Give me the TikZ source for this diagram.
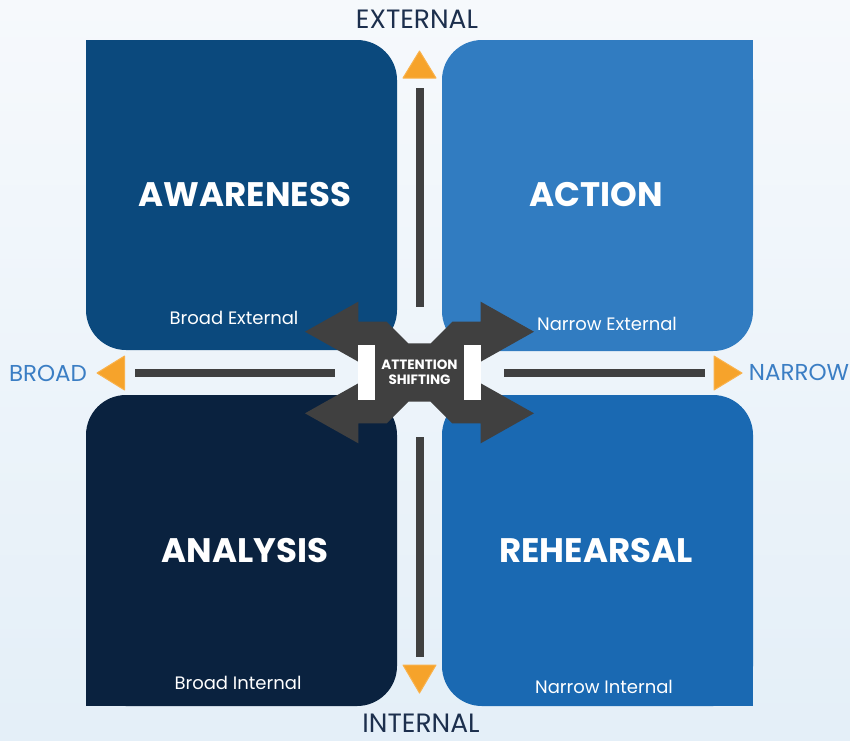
\documentclass[tikz,border=0pt]{standalone}
\usepackage{fontspec}
\setmainfont{Poppins}
\begin{document}
\begin{tikzpicture}[x=1pt,y=-1pt,
  boxtitle/.style={text=white,font=\bfseries\fontsize{34}{40}\selectfont,inner sep=0pt},
  boxsub/.style={text=white,font=\fontsize{18}{22}\selectfont,inner sep=0pt},
  axisv/.style={text=navytxt,font=\fontsize{26.5}{31}\selectfont,inner sep=0pt},
  axish/.style={text=bluetxt,font=\fontsize{23}{28}\selectfont,inner sep=0pt},
  bar/.style={fill=bargray},
  tri/.style={fill=orangetri}
]
\definecolor{bgtop}{HTML}{F6F9FC}
\definecolor{bgbot}{HTML}{E4EFF8}
\definecolor{cAw}{HTML}{0B497D}
\definecolor{cAc}{HTML}{317CC1}
\definecolor{cAn}{HTML}{0A223F}
\definecolor{cRe}{HTML}{1A69B2}
\definecolor{bargray}{HTML}{404040}
\definecolor{orangetri}{HTML}{F6A32B}
\definecolor{orangeedge}{HTML}{F9B24C}
\definecolor{navytxt}{HTML}{1C2F4D}
\definecolor{bluetxt}{HTML}{3B7EC4}

\useasboundingbox (0,0) rectangle (850,740);
\fill[top color=bgtop,bottom color=bgbot] (0,0) rectangle (850,740);

% quadrant boxes (outer corner square)
\fill[cAw,rounded corners=40pt] (86,40) rectangle (397,350);
\fill[cAw] (86,40) rectangle (140,94);
\fill[cAc,rounded corners=40pt] (442,40) rectangle (753,351);
\fill[cAc] (699,40) rectangle (753,94);
\fill[cAn,rounded corners=40pt] (86,395) rectangle (397,706);
\fill[cAn] (86,652) rectangle (140,706);
\fill[cRe,rounded corners=40pt] (442,395) rectangle (753,706);
\fill[cRe] (699,652) rectangle (753,706);

% axis bars
\fill[bar] (415.5,88) rectangle (423.5,307);
\fill[bar] (415.5,437) rectangle (423.5,657);
\fill[bar] (135,368.5) rectangle (335,377);
\fill[bar] (504,368.5) rectangle (705,377);

% orange triangles
\coordinate (tU) at (419.5,51);
\coordinate (tD) at (419.5,693);
\coordinate (tL) at (97,373);
\coordinate (tR) at (742,373);
\fill[tri] (tU) -- (403,78) -- (436,78) -- cycle;
\fill[tri] (tD) -- (403,665) -- (436,665) -- cycle;
\fill[tri] (tL) -- (124.5,356) -- (124.5,390) -- cycle;
\fill[tri] (tR) -- (714,356) -- (714,390) -- cycle;
\draw[orangeedge,line width=1pt,line join=round] (tU) -- (403,78) -- (436,78) -- cycle;
\draw[orangeedge,line width=1pt,line join=round] (tD) -- (403,665) -- (436,665) -- cycle;
\draw[orangeedge,line width=1pt,line join=round] (tL) -- (124.5,356) -- (124.5,390) -- cycle;
\draw[orangeedge,line width=1pt,line join=round] (tR) -- (714,356) -- (714,390) -- cycle;

% central attention-shifting arrows
\fill[bargray] (419.5,343.3) -- (430.7,343.3) -- (452.3,321.7) -- (480.7,321.7)
  -- (480.7,301.7) -- (534,331.7) -- (480.7,361.7) -- (480.7,383.3)
  -- (534,413.3) -- (480.7,443.3) -- (480.7,423.3) -- (452.3,423.3)
  -- (430.7,401.7) -- (408.3,401.7) -- (386.7,423.3) -- (358.3,423.3)
  -- (358.3,443.3) -- (305,413.3) -- (358.3,383.3) -- (358.3,361.7)
  -- (305,331.7) -- (358.3,301.7) -- (358.3,321.7) -- (386.7,321.7)
  -- (408.3,343.3) -- cycle;
\fill[white] (358.3,345) rectangle (375,400);
\fill[white] (464,345) rectangle (480.7,400);

% texts
\node[boxtitle] (aw) at (245,195) {AWARENESS};
\node[boxtitle] (ac) at (596,195) {ACTION};
\node[boxtitle] (an) at (245,550) {ANALYSIS};
\node[boxtitle] (re) at (596,550) {REHEARSAL};
\node[boxsub] (awsub) at (234,318) {Broad External};
\node[boxsub] (acsub) at (607,324) {Narrow External};
\node[boxsub] (ansub) at (238,683) {Broad Internal};
\node[boxsub] (resub) at (604,687) {Narrow Internal};
\node[axisv] (ext) at (417,19) {EXTERNAL};
\node[axisv] (int) at (421,723) {INTERNAL};
\node[axish] (broad) at (48,373) {BROAD};
\node[axish] (narrow) at (799,372) {NARROW};
\node[text=white,font=\bfseries\fontsize{13.5}{15}\selectfont,align=center,inner sep=0pt] (att) at (419.5,372) {ATTENTION\\SHIFTING};
\end{tikzpicture}
\end{document}
